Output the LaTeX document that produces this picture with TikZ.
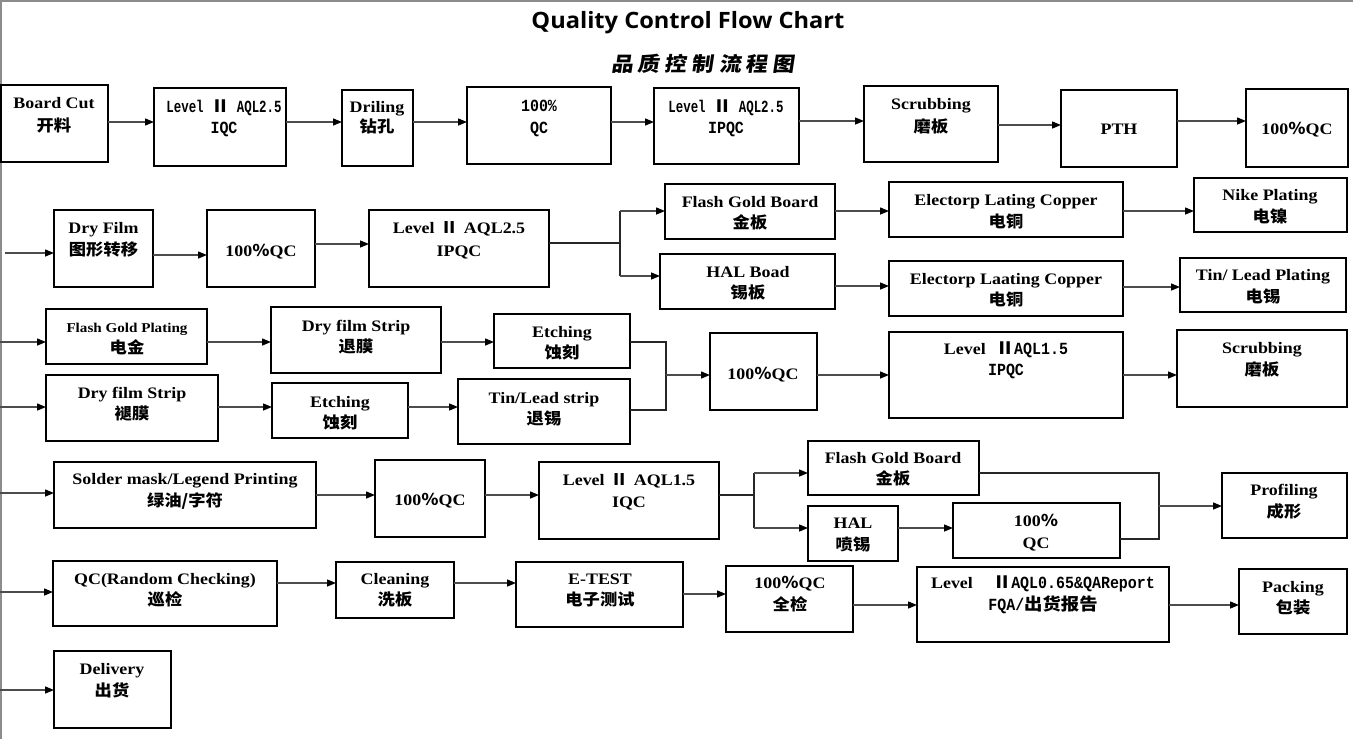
\documentclass[tikz,border=0pt]{standalone}
\usepackage{fontspec}
\setmainfont{Liberation Serif}[FakeStretch=1.12]
\newfontfamily\cjkf{Noto Sans CJK SC}[FakeStretch=1.08]
\newfontfamily\cjkt{Noto Sans CJK SC}[FakeSlant=0.15,FakeStretch=1.1]
\newfontfamily\monoa{Liberation Mono}[FakeStretch=0.73]
\newfontfamily\monob{Liberation Mono}[FakeStretch=0.88]
\newfontfamily\titlef{Open Sans}[FakeStretch=1.05]
\usetikzlibrary{arrows.meta}
\newcommand{\ZH}[1]{{\cjkf\bfseries #1}}
\newcommand{\MN}[1]{{\monoa\bfseries\fontsize{17}{20}\selectfont #1}}
\newcommand{\MW}[1]{{\monob\bfseries\fontsize{17}{20}\selectfont #1}}
\newcommand{\bx}[5]{\node[box, minimum width={(#4-#2)*1pt}, minimum height={(#5-#3)*1pt}] (#1) at ({(#2+#4)/2},{(#3+#5)/2}) {};}
\newcommand{\tx}[5][]{\node[txt,#1] (#2) at (#3,{#4+5.5}) {#5};}
\begin{document}
\begin{tikzpicture}[x=1pt,y=-1pt,font={\bfseries\fontsize{16}{19}\selectfont},
  box/.style={draw=black, line width=1.3pt, inner sep=0pt, outer sep=0pt},
  arr/.style={draw=black!70, line width=1.4pt, -{Triangle[length=9pt,width=7pt,black]}},
  ln/.style={draw=black!85, line width=1.3pt},
  txt/.style={anchor=base, inner sep=0pt},
  sm/.style={font={\bfseries\fontsize{13.5}{16}\selectfont}}]
\useasboundingbox (0,0) rectangle (1353,739);
\fill[white] (0,0) rectangle (1353,739);
\draw[black!45, line width=2pt] (1,739) -- (1,1) -- (1353,1);
% title
\node[anchor=base, inner sep=0pt, font={\titlef\bfseries\fontsize{22.5}{26}\selectfont}] (title) at (688,28) {Quality Control Flow Chart};
\node[anchor=base, inner sep=0pt, font={\cjkt\bfseries\fontsize{20}{24}\selectfont}] (sub) at (703,71) {品\hspace{5pt}质\hspace{5pt}控\hspace{5pt}制\hspace{5pt}流\hspace{5pt}程\hspace{5pt}图};
% row 1
\bx{b1}{1}{85}{108}{162}
\bx{b2}{154}{88}{286}{166}
\bx{b3}{342}{90}{413}{166}
\bx{b4}{467}{87}{611}{164}
\bx{b5}{654}{88}{799}{164}
\bx{b6}{864}{86}{998}{162}
\bx{b7}{1061}{90}{1177}{167}
\bx{b8}{1246}{89}{1348}{167}
\tx{t1a}{54}{103}{Board Cut}
\tx{t1b}{54}{126}{\ZH{开料}}
\tx{t2a}{224}{107}{\MN{Level \ZH{Ⅱ} AQL2.5}}
\tx{t2b}{224}{128}{\MW{IQC}}
\tx{t3a}{377}{107}{Driling}
\tx{t3b}{377}{127}{\ZH{钻孔}}
\tx{t4a}{539}{106}{\MW{100\%}}
\tx{t4b}{539}{128}{\MW{QC}}
\tx{t5a}{726}{107}{\MN{Level \ZH{Ⅱ} AQL2.5}}
\tx{t5b}{726}{128}{\MW{IPQC}}
\tx{t6a}{931}{104}{Scrubbing}
\tx{t6b}{931}{127}{\ZH{磨板}}
\tx{t7a}{1119}{129}{PTH}
\tx{t8a}{1297}{129}{100\ZH{％}QC}
\draw[arr] (b1.east|-0,122) -- (b2.west|-0,122);
\draw[arr] (b2.east|-0,122) -- (b3.west|-0,122);
\draw[arr] (b3.east|-0,122) -- (b4.west|-0,122);
\draw[arr] (b4.east|-0,122) -- (b5.west|-0,122);
\draw[arr] (b5.east|-0,121) -- (b6.west|-0,121);
\draw[arr] (b6.east|-0,125) -- (b7.west|-0,125);
\draw[arr] (b7.east|-0,121) -- (b8.west|-0,121);
% row 2
\coordinate (in2) at (5,253);
\bx{c1}{54}{210}{153}{287}
\bx{c2}{207}{210}{315}{287}
\bx{c3}{369}{210}{549}{287}
\bx{c4}{665}{184}{835}{239}
\bx{c5}{889}{182}{1123}{237}
\bx{c6}{1194}{178}{1347}{232}
\bx{c7}{660}{254}{835}{309}
\bx{c8}{889}{261}{1123}{316}
\bx{c9}{1180}{258}{1346}{312}
\tx{u1a}{103.5}{228}{Dry Film}
\tx{u1b}{103.5}{250}{\ZH{图形转移}}
\tx{u2a}{261}{251}{100\ZH{％}QC}
\tx{u3a}{459}{228}{Level\hspace{6pt}\ZH{Ⅱ}\hspace{6pt}AQL2.5}
\tx{u3b}{459}{251}{IPQC}
\tx{u4a}{750}{202}{Flash Gold Board}
\tx{u4b}{750}{223}{\ZH{金板}}
\tx{u5a}{1006}{200}{Electorp Lating Copper}
\tx{u5b}{1006}{222}{\ZH{电铜}}
\tx{u6a}{1270}{195}{Nike Plating}
\tx{u6b}{1270}{217}{\ZH{电镍}}
\tx{u7a}{748}{272}{HAL Boad}
\tx{u7b}{748}{293}{\ZH{锡板}}
\tx{u8a}{1006}{279}{Electorp Laating Copper}
\tx{u8b}{1006}{300}{\ZH{电铜}}
\tx{u9a}{1263}{275}{Tin/ Lead Plating}
\tx{u9b}{1263}{297}{\ZH{电锡}}
\draw[arr] (in2) -- (c1.west|-in2);
\draw[arr] (c1.east|-0,255) -- (c2.west|-0,255);
\draw[arr] (c2.east|-0,244) -- (c3.west|-0,244);
\coordinate (j2) at (620,243);
\coordinate (j2a) at (620,211);
\coordinate (j2b) at (620,276);
\draw[ln] (c3.east|-j2) -- (j2);
\draw[ln] (j2a) -- (j2b);
\draw[arr] (j2a) -- (c4.west|-j2a);
\draw[arr] (j2b) -- (c7.west|-j2b);
\draw[arr] (c4.east|-0,211) -- (c5.west|-0,211);
\draw[arr] (c5.east|-0,211) -- (c6.west|-0,211);
\draw[arr] (c7.east|-0,286) -- (c8.west|-0,286);
\draw[arr] (c8.east|-0,287) -- (c9.west|-0,287);
% row 3
\coordinate (in3a) at (0,342);
\coordinate (in3b) at (0,407);
\bx{d1}{46}{309}{207}{364}
\bx{d2}{271}{307}{441}{373}
\bx{d3}{494}{314}{630}{368}
\bx{d4}{46}{375}{218}{441}
\bx{d5}{272}{383}{408}{438}
\bx{d6}{458}{379}{630}{444}
\bx{d7}{710}{333}{817}{410}
\bx{d8}{889}{332}{1123}{418}
\bx{d9}{1177}{330}{1347}{407}
\tx[sm]{v1a}{127}{327}{Flash Gold Plating}
\tx{v1b}{127}{348}{\ZH{电金}}
\tx{v2a}{356}{326}{Dry film Strip}
\tx{v2b}{356}{347}{\ZH{退膜}}
\tx{v3a}{562}{332}{Etching}
\tx{v3b}{562}{353}{\ZH{蚀刻}}
\tx{v4a}{132}{393}{Dry film Strip}
\tx{v4b}{132}{414}{\ZH{褪膜}}
\tx{v5a}{340}{402}{Etching}
\tx{v5b}{340}{423}{\ZH{蚀刻}}
\tx{v6a}{544}{398}{Tin/Lead strip}
\tx{v6b}{544}{419}{\ZH{退锡}}
\tx{v7a}{763}{374}{100\ZH{％}QC}
\tx{v8a}{1006}{349}{Level\hspace{10pt}\MW{\ZH{Ⅱ}AQL1.5}}
\tx{v8b}{1006}{370}{\MW{IPQC}}
\tx{v9a}{1262}{348}{Scrubbing}
\tx{v9b}{1262}{370}{\ZH{磨板}}
\draw[arr] (in3a) -- (d1.west|-in3a);
\draw[arr] (d1.east|-0,342) -- (d2.west|-0,342);
\draw[arr] (d2.east|-0,342) -- (d3.west|-0,342);
\draw[arr] (in3b) -- (d4.west|-in3b);
\draw[arr] (d4.east|-0,407) -- (d5.west|-0,407);
\draw[arr] (d5.east|-0,407) -- (d6.west|-0,407);
\coordinate (m3a) at (666,342);
\coordinate (m3b) at (666,410);
\coordinate (m3c) at (666,375);
\draw[ln] (d3.east|-m3a) -- (m3a) -- (m3b) -- (d6.east|-m3b);
\draw[arr] (m3c) -- (d7.west|-m3c);
\draw[arr] (d7.east|-0,375) -- (d8.west|-0,375);
\draw[arr] (d8.east|-0,375) -- (d9.west|-0,375);
% row 4
\coordinate (in4) at (0,493);
\bx{e1}{54}{462}{316}{528}
\bx{e2}{375}{460}{485}{537}
\bx{e3}{539}{462}{719}{539}
\bx{e4}{808}{441}{979}{495}
\bx{e5}{808}{506}{898}{561}
\bx{e6}{953}{503}{1120}{558}
\bx{e7}{1222}{473}{1347}{538}
\tx{w1a}{185}{479}{Solder mask/Legend Printing}
\tx{w1b}{185}{501}{\ZH{绿油/字符}}
\tx{w2a}{430}{500}{100\ZH{％}QC}
\tx{w3a}{629}{480}{Level\hspace{6pt}\ZH{Ⅱ}\hspace{6pt}AQL1.5}
\tx{w3b}{629}{502}{IQC}
\tx{w4a}{893}{458}{Flash Gold Board}
\tx{w4b}{893}{479}{\ZH{金板}}
\tx{w5a}{853}{523}{HAL}
\tx{w5b}{853}{545}{\ZH{喷锡}}
\tx{w6a}{1036}{521}{100\ZH{％}}
\tx{w6b}{1036}{543}{QC}
\tx{w7a}{1284}{490}{Profiling}
\tx{w7b}{1284}{512}{\ZH{成形}}
\draw[arr] (in4) -- (e1.west|-in4);
\draw[arr] (e1.east|-0,495) -- (e2.west|-0,495);
\draw[arr] (e2.east|-0,495) -- (e3.west|-0,495);
\coordinate (j4) at (754,495);
\coordinate (j4a) at (754,473);
\coordinate (j4b) at (754,528);
\draw[ln] (e3.east|-j4) -- (j4);
\draw[ln] (j4a) -- (j4b);
\draw[arr] (j4a) -- (e4.west|-j4a);
\draw[arr] (j4b) -- (e5.west|-j4b);
\draw[arr] (e5.east|-0,528) -- (e6.west|-0,528);
\coordinate (m4a) at (1159,473);
\coordinate (m4b) at (1159,539);
\coordinate (m4c) at (1159,506);
\draw[ln] (e4.east|-m4a) -- (m4a) -- (m4b) -- (e6.east|-m4b);
\draw[arr] (m4c) -- (e7.west|-m4c);
% row 5
\coordinate (in5) at (0,592);
\bx{f1}{53}{561}{277}{626}
\bx{f2}{336}{562}{454}{618}
\bx{f3}{516}{562}{683}{627}
\bx{f4}{726}{566}{853}{632}
\bx{f5}{917}{567}{1169}{642}
\bx{f6}{1239}{569}{1347}{634}
\tx{x1a}{165}{579}{QC(Random Checking)}
\tx{x1b}{165}{600}{\ZH{巡检}}
\tx{x2a}{395}{579}{Cleaning}
\tx{x2b}{395}{600}{\ZH{洗板}}
\tx{x3a}{600}{579}{E-TEST}
\tx{x3b}{600}{600}{\ZH{电子测试}}
\tx{x4a}{790}{583}{100\ZH{％}QC}
\tx{x4b}{790}{605}{\ZH{全检}}
\tx{x5a}{1043}{583}{Level\hspace{20pt}\MW{\ZH{Ⅱ}AQL0.65\&QAReport}}
\tx{x5b}{1043}{605}{\MW{FQA/\ZH{出货报告}}}
\tx{x6a}{1293}{587}{Packing}
\tx{x6b}{1293}{608}{\ZH{包装}}
\draw[arr] (in5) -- (f1.west|-in5);
\draw[arr] (f1.east|-0,583) -- (f2.west|-0,583);
\draw[arr] (f2.east|-0,583) -- (f3.west|-0,583);
\draw[arr] (f3.east|-0,594) -- (f4.west|-0,594);
\draw[arr] (f4.east|-0,605) -- (f5.west|-0,605);
\draw[arr] (f5.east|-0,605) -- (f6.west|-0,605);
% row 6
\coordinate (in6) at (0,690);
\bx{g1}{54}{651}{171}{728}
\tx{y1a}{112}{669}{Delivery}
\tx{y1b}{112}{691}{\ZH{出货}}
\draw[arr] (in6) -- (g1.west|-in6);
\end{tikzpicture}
\end{document}
